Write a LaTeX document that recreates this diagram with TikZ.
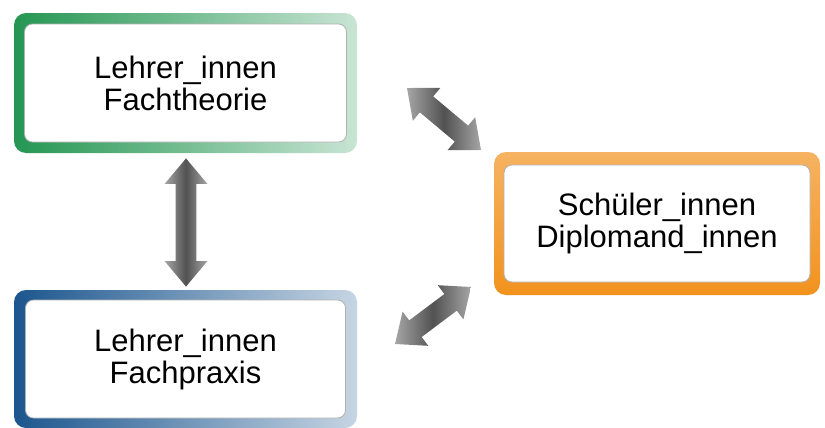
\documentclass[tikz,border=0pt]{standalone}
\usepackage{fontspec}
\setmainfont{Liberation Sans}
\usetikzlibrary{calc,positioning,shapes.arrows}
\definecolor{frgreen}{RGB}{36,150,82}
\definecolor{frblue}{RGB}{28,86,142}
\definecolor{frorange}{RGB}{242,146,30}
\tikzset{
  outbox/.style={rounded corners=6pt, inner sep=0pt, draw=none},
  grnfr/.style={outbox, left color=frgreen, right color=frgreen!25},
  blufr/.style={outbox, left color=frblue, right color=frblue!25},
  orgfr/.style={outbox, top color=frorange!70, bottom color=frorange},
  inbox/.style={draw=gray!60, fill=white, rounded corners=4pt, inner sep=0pt,
                align=center, font=\fontsize{15.5}{16}\selectfont},
  dblarr/.style={double arrow, inner xsep=0pt, inner ysep=5pt,
                 double arrow head extend=5.5pt, double arrow tip angle=80,
                 left color=gray!70, right color=gray!70, middle color=black!68},
}
\begin{document}
\begin{tikzpicture}[x=0.5pt, y=-0.5pt]
  \useasboundingbox (0,0) rectangle (825,428);
  % frames
  \node[grnfr, minimum width=171.5pt, minimum height=70pt] (theo) at (185.5,83) {};
  \node[inbox, minimum width=161pt, minimum height=59pt] (theo-t) at (theo) {Lehrer\_innen\\Fachtheorie};
  \node[blufr, minimum width=171.5pt, minimum height=69pt] (praxis) at (185.5,359) {};
  \node[inbox, minimum width=160pt, minimum height=59pt] (praxis-t) at (praxis) {Lehrer\_innen\\Fachpraxis};
  \node[orgfr, minimum width=163pt, minimum height=71.5pt] (schuel) at (657,223.5) {};
  \node[inbox, minimum width=153pt, minimum height=58.5pt] (schuel-t) at (schuel) {Schüler\_innen\\Diplomand\_innen};
  % arrows
  \coordinate (v1) at ($(theo.south)+(0.5,5)$);
  \coordinate (v2) at ($(praxis.north)+(0.5,-3)$);
  \coordinate (d1) at (407,88);
  \coordinate (d2) at (481,150);
  \coordinate (d3) at (395,344);
  \coordinate (d4) at (471,287);
  \foreach \a/\b in {v1/v2, d1/d2, d3/d4}
    \path let \p1=($(\b)-(\a)$), \n1={veclen(\x1,\y1)} in
      (\a) -- node[dblarr, sloped, minimum height=\n1] {} (\b);
\end{tikzpicture}
\end{document}
